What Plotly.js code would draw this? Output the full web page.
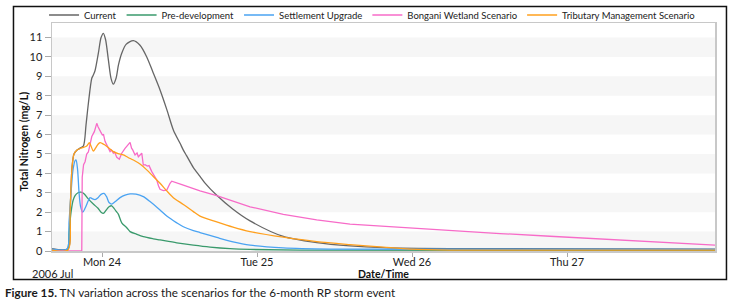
<!DOCTYPE html>
<html>
<head>
<meta charset="utf-8">
<script src="https://cdn.plot.ly/plotly-3.0.1.min.js"></script>
<style>
html,body{margin:0;padding:0;background:#fff;}
#chart{width:734px;height:302px;}
</style>
</head>
<body>
<div id="chart"></div>
<script>
// Time is given as hours relative to 2006-07-24 00:00
var baseDate = Date.UTC(2006, 6, 24, 0, 0, 0);

var seriesNames = ["Current", "Pre-development", "Settlement Upgrade", "Bongani Wetland Scenario", "Tributary Management Scenario"];

var currentHours = [-7.74, -5.26, -4.95, -4.65, -4.34, -3.87, -3.41, -2.90, -2.48, -2.12, -1.59, -1.35, -1.08, -0.57, -0.15, 0.20, 0.54, 0.98, 1.39, 1.75, 2.17, 2.55, 3.05, 3.72, 4.85, 5.88, 6.92, 7.90, 8.98, 10.02, 11.04, 12.08, 12.59, 13.11, 14.14, 15.17, 15.95, 17.76, 20.28, 22.92, 28.07, 33.24, 38.40, 43.56, 53.88, 94.92];
var currentTN = [0.12, 0.12, 2.0, 4.3, 5.0, 5.2, 5.3, 5.4, 6.5, 7.6, 8.9, 9.07, 9.3, 10.2, 11.0, 11.22, 10.9, 9.85, 8.9, 8.6, 8.9, 9.6, 10.19, 10.65, 10.84, 10.6, 10.0, 9.2, 8.3, 7.3, 6.24, 5.55, 5.2, 4.9, 4.3, 3.85, 3.5, 2.87, 2.15, 1.55, 0.75, 0.43, 0.26, 0.17, 0.12, 0.1];

var predevHours = [-7.74, -5.42, -5.11, -4.80, -4.49, -4.18, -3.72, -3.25, -2.79, -2.17, -1.35, -0.62, -0.15, 0.20, 0.62, 1.08, 1.50, 1.86, 2.17, 2.52, 3.05, 3.82, 4.34, 5.37, 6.39, 7.94, 8.98, 11.57, 14.14, 16.72, 19.82, 22.92, 30.66, 94.92];
var predevTN = [0.05, 0.05, 1.0, 2.0, 2.6, 2.85, 3.0, 3.03, 2.95, 2.7, 2.42, 2.2, 2.0, 1.94, 2.1, 2.28, 2.33, 2.2, 2.05, 1.9, 1.45, 1.2, 1.0, 0.86, 0.74, 0.63, 0.57, 0.42, 0.3, 0.2, 0.12, 0.08, 0.05, 0.03];

var settlementHours = [-7.74, -5.42, -5.11, -4.80, -4.49, -4.18, -4.03, -3.79, -3.56, -3.33, -2.99, -2.63, -2.12, -1.86, -1.55, -1.08, -0.62, -0.15, 0.31, 0.70, 1.08, 1.50, 2.01, 2.79, 3.56, 4.34, 5.26, 6.39, 7.43, 8.98, 10.02, 11.57, 12.59, 14.14, 15.17, 17.76, 20.28, 22.92, 28.07, 35.30, 94.92];
var settlementTN = [0.1, 0.1, 1.5, 3.0, 4.2, 4.65, 4.7, 4.2, 3.0, 2.3, 2.0, 2.2, 2.6, 2.75, 2.7, 2.65, 2.75, 2.92, 2.97, 2.8, 2.5, 2.42, 2.54, 2.75, 2.88, 2.94, 2.93, 2.8, 2.55, 2.11, 1.8, 1.45, 1.25, 1.05, 0.95, 0.7, 0.47, 0.3, 0.16, 0.1, 0.08];

var bonganiHours = [-7.74, -3.14, -3.07, -2.86, -2.63, -2.37, -2.12, -1.86, -1.59, -1.19, -1.01, -0.82, -0.62, -0.42, -0.23, 0.05, 0.23, 0.46, 0.88, 1.24, 1.47, 1.75, 1.94, 2.28, 2.68, 3.05, 3.56, 4.03, 4.34, 4.57, 4.75, 5.11, 5.42, 5.62, 5.88, 6.15, 6.39, 6.66, 7.01, 7.28, 7.70, 8.47, 8.75, 8.98, 9.49, 10.02, 10.53, 10.79, 12.59, 15.17, 17.76, 22.92, 28.07, 33.24, 38.40, 46.14, 53.88, 61.63, 69.37, 77.11, 84.85, 94.92];
var bonganiTN = [0, 0, 3.8, 4.45, 4.6, 5.0, 5.1, 5.5, 5.9, 6.15, 6.35, 6.58, 6.4, 6.24, 6.15, 5.98, 6.0, 5.65, 5.38, 5.12, 5.2, 5.04, 5.1, 4.83, 4.73, 5.04, 5.29, 5.45, 5.6, 5.3, 5.21, 4.95, 5.05, 4.86, 4.95, 5.04, 4.43, 4.45, 4.38, 4.4, 4.09, 3.66, 3.35, 3.18, 3.11, 3.14, 3.49, 3.6, 3.4, 3.1, 2.85, 2.28, 1.89, 1.6, 1.39, 1.22, 1.05, 0.9, 0.76, 0.62, 0.48, 0.3];

var tributaryHours = [-7.74, -5.26, -4.95, -4.65, -4.34, -3.87, -3.25, -2.79, -2.37, -1.97, -1.70, -1.35, -1.01, -0.62, -0.31, 0.0, 0.46, 1.08, 1.75, 2.48, 3.30, 4.03, 4.85, 5.88, 6.92, 7.90, 8.98, 10.02, 11.04, 12.59, 14.14, 15.17, 17.76, 20.28, 22.92, 28.07, 33.24, 38.40, 43.56, 47.69, 53.88, 94.92];
var tributaryTN = [0.05, 0.05, 2.0, 4.3, 5.0, 5.2, 5.3, 5.35, 5.41, 5.58, 5.4, 5.15, 5.3, 5.5, 5.58, 5.55, 5.46, 5.3, 5.12, 5.02, 4.95, 4.82, 4.69, 4.48, 4.18, 3.85, 3.49, 3.1, 2.75, 2.4, 2.03, 1.8, 1.5, 1.23, 1.0, 0.71, 0.48, 0.33, 0.2, 0.1, 0.05, 0.05];

var xRange = ["2006-07-23 16:15:00", "2006-07-27 22:55:00"];
var tickDates = ["2006-07-24", "2006-07-25", "2006-07-26", "2006-07-27"];
var tickLabels = ["Mon 24", "Tue 25", "Wed 26", "Thu 27"];

function toDate(h) {
  return new Date(baseDate + h * 3600000).toISOString().replace('T', ' ').replace('Z', '');
}

var FONT = "Lato, 'Open Sans', sans-serif";

function mk(name, hours, vals, color, shape) {
  return {
    type: 'scatter', mode: 'lines', name: name,
    x: hours.map(toDate), y: vals,
    line: {color: color, width: 1.3, shape: shape, smoothing: 0.8},
    hoverinfo: 'x+y'
  };
}

var data = [
  mk(seriesNames[0], currentHours, currentTN, '#666666', 'spline'),
  mk(seriesNames[1], predevHours, predevTN, '#3a9a6c', 'spline'),
  mk(seriesNames[2], settlementHours, settlementTN, '#4aa3f2', 'spline'),
  mk(seriesNames[3], bonganiHours, bonganiTN, '#f76bc8', 'linear'),
  mk(seriesNames[4], tributaryHours, tributaryTN, '#ffa01e', 'spline')
];

var shapes = [];
for (var k = 0; k <= 10; k += 2) {
  shapes.push({type: 'rect', xref: 'paper', yref: 'y', x0: 0, x1: 1, y0: k, y1: k + 1,
    fillcolor: '#f6f6f6', line: {width: 0}, layer: 'below'});
}
// outer frame
shapes.push({type: 'rect', xref: 'paper', yref: 'paper', x0: -0.0581, x1: 1.0173, y0: -0.125, y1: 1.0724,
  line: {color: '#111', width: 1.5}, fillcolor: 'rgba(0,0,0,0)', layer: 'above'});

var layout = {
  width: 734, height: 302,
  margin: {l: 52, r: 19, t: 23, b: 51, autoexpand: false},
  paper_bgcolor: '#fff', plot_bgcolor: '#fff',
  font: {family: FONT, size: 11, color: '#222'},
  showlegend: true,
  legend: {orientation: 'h', x: -0.012, xanchor: 'left', y: 1.035, yanchor: 'middle',
    font: {family: FONT, size: 9.5, color: '#222'}, bgcolor: 'rgba(0,0,0,0)', itemwidth: 30,
    tracegroupgap: 0},
  xaxis: {
    type: 'date', range: xRange,
    tickmode: 'array', tickvals: tickDates, ticktext: tickLabels,
    ticks: 'outside', ticklen: 4, tickcolor: '#aaa', ticklabelstandoff: -4,
    showline: true, linecolor: '#c8c8c8', linewidth: 1.5, mirror: true,
    showgrid: false, zeroline: false,
    tickfont: {family: FONT, size: 11, color: '#222'}
  },
  yaxis: {
    range: [0, 11.75], dtick: 1, tick0: 0,
    ticks: 'outside', ticklen: 6, tickcolor: '#aaa',
    showline: true, linecolor: '#c8c8c8', linewidth: 1.5, mirror: true,
    showgrid: false, zeroline: false,
    tickfont: {family: FONT, size: 11, color: '#222'}
  },
  shapes: shapes,
  annotations: [
    {text: '<b>Total Nitrogen (mg/L)</b>', textangle: -90, xref: 'paper', yref: 'paper',
      x: -0.0422, y: 0.48, xanchor: 'center', yanchor: 'middle', showarrow: false,
      font: {family: FONT, size: 10.5, color: '#111'}},
    {text: '<b>Date/Time</b>', xref: 'paper', yref: 'paper', x: 0.5, y: -0.1,
      xanchor: 'center', yanchor: 'middle', showarrow: false,
      font: {family: FONT, size: 10.5, color: '#111'}},
    {text: '2006 Jul', xref: 'paper', yref: 'paper', x: -0.0332, y: -0.097,
      xanchor: 'left', yanchor: 'middle', showarrow: false,
      font: {family: FONT, size: 11, color: '#222'}},
    {text: '<b>Figure 15.</b> TN variation across the scenarios for the 6-month RP storm event',
      xref: 'paper', yref: 'paper', x: -0.0739, y: -0.18, xanchor: 'left', yanchor: 'middle',
      showarrow: false, font: {family: FONT, size: 11.7, color: '#1a1a1a'}}
  ]
};

Plotly.newPlot('chart', data, layout, {displayModeBar: false, staticPlot: true});
</script>
</body>
</html>
